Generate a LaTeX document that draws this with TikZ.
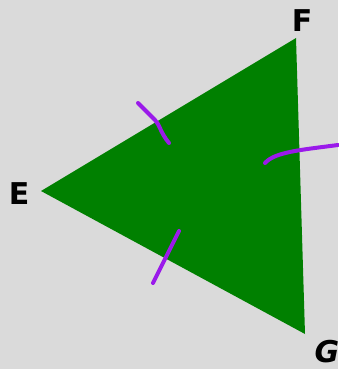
\documentclass[tikz,border=0pt]{standalone}
\usepackage{fontspec}
\setmainfont{DejaVu Sans}
\definecolor{bggray}{HTML}{DADADA}
\definecolor{trigreen}{HTML}{008000}
\definecolor{tickpurple}{HTML}{9A1AEA}
\tikzset{
  lbl/.style={font=\fontsize{30}{30}\selectfont\bfseries, inner sep=0pt, text=black},
  tick/.style={draw=tickpurple, line width=4pt, line cap=round, line join=round}
}
\begin{document}
\begin{tikzpicture}[x=1pt,y=-1pt]
\fill[bggray] (0,0) rectangle (338,369);
\useasboundingbox (0,0) rectangle (338,369);
\coordinate (e) at (41,191);
\coordinate (f) at (296,38);
\coordinate (g) at (305,334);
\fill[trigreen] (e) -- (f) -- (g) -- cycle;
\node[lbl] (E) at (19,194) {E};
\node[lbl] (F) at (302,21) {F};
\node[lbl] (G) at (327,352) {\itshape G};
\draw[tick] (138,103) -- (155,120) .. controls (160,125) and (160,132) .. (169,143);
\draw[tick] (265,163) .. controls (275,152) and (300,150) .. (338,145);
\draw[tick] (179,231) -- (153,283);
\end{tikzpicture}
\end{document}
